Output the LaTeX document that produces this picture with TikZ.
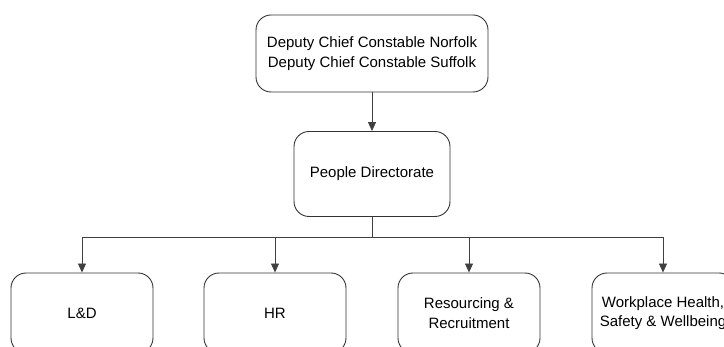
\documentclass[tikz,border=0pt]{standalone}
\usepackage{fontspec}
\setmainfont{Liberation Sans}
\usetikzlibrary{positioning,arrows.meta}
\tikzstyle{unit}=[draw=black!80, line width=0.9pt, rounded corners=15pt, align=center, font=\fontsize{15}{19.5}\selectfont, inner sep=0pt]
\tikzstyle{team}=[unit, minimum width=142pt, minimum height=80pt]
\tikzstyle{link}=[draw=black!75, line width=0.9pt, -{Triangle[length=9pt,width=8pt]}]

\begin{document}
\begin{tikzpicture}[x=1pt, y=-1pt]
  \clip (0,0) rectangle (724,347);
  \node[unit, minimum width=232pt, minimum height=77pt] (dcc) at (372,53.5)
    {Deputy Chief Constable Norfolk\\Deputy Chief Constable Suffolk};
  \node[unit, minimum width=156pt, minimum height=85pt] (people) at (372,174) {People Directorate};
  \node[team] (ld) at (82,313) {L\&D};
  \node[team] (hr) at (275,313) {HR};
  \node[team] (res) at (469,313) {Resourcing \&\\Recruitment};
  \node[team] (whs) at (663,313) {Workplace Health,\\Safety \& Wellbeing};
  \coordinate (bus) at (372,237);

  \draw[link] (dcc) -- (people);
  \draw[draw=black!75, line width=0.9pt] (people) -- (bus);
  \foreach \t in {ld,hr,res,whs}
    \draw[link] (bus) -| (\t.north);
\end{tikzpicture}
\end{document}
